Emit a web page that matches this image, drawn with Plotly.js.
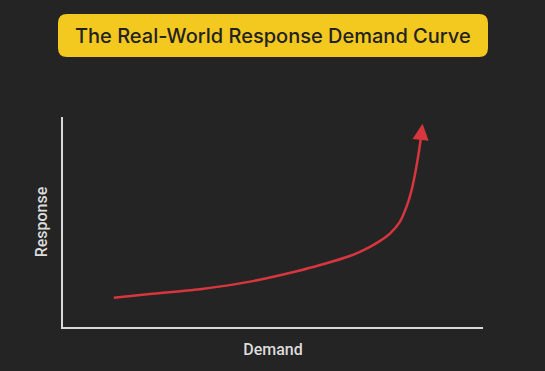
<!DOCTYPE html>
<html>
<head>
<meta charset="utf-8">
<script src="https://cdn.plot.ly/plotly-3.0.1.min.js"></script>
<style>html,body{margin:0;padding:0;background:#242424;}#chart{width:545px;height:371px;}</style>
</head>
<body>
<div id="chart"></div>
<script>
const chartTitle = "The Real-World Response Demand Curve";
const xLabel = "Demand";
const yLabel = "Response";
const demand   = [12.1, 20.7, 32.6, 44.5, 56.4, 61.2, 68.3, 73.1, 75.5, 77.9, 80.2, 81.8, 83.0, 84.0, 84.8, 85.2];
const response = [13.9, 15.7, 18.0, 21.6, 26.9, 29.5, 33.8, 38.2, 41.0, 44.6, 50.1, 57.3, 65.2, 74.8, 84.3, 90.0];
const arrowTip = [85.6, 96.8];

const red = "#d8363f";
const n = demand.length;

const trace = {
  x: demand, y: response, type: "scatter", mode: "lines",
  line: {color: red, width: 2.5, shape: "spline", smoothing: 0.8},
  hoverinfo: "skip"
};

const layout = {
  width: 545, height: 371,
  paper_bgcolor: "#242424", plot_bgcolor: "#242424",
  margin: {l: 63, r: 62, t: 117, b: 44},
  showlegend: false,
  xaxis: {
    range: [0, 100], showgrid: false, zeroline: false, showticklabels: false, ticks: "",
    showline: true, linecolor: "#d9d9d9", linewidth: 2, fixedrange: true,
    title: {text: xLabel, font: {family: "Roboto", size: 16, color: "#dcdcdc", weight: 500}, standoff: 16}
  },
  yaxis: {
    range: [0, 100], showgrid: false, zeroline: false, showticklabels: false, ticks: "",
    showline: true, linecolor: "#d9d9d9", linewidth: 2, fixedrange: true,
    title: {text: yLabel, font: {family: "Roboto", size: 16, color: "#dcdcdc", weight: 500}, standoff: 9}
  },
  shapes: [{
    type: "path", xref: "paper", yref: "paper",
    xsizemode: "pixel", ysizemode: "pixel", xanchor: 0.5, yanchor: 1.388,
    path: "M -206,-21.5 L 206,-21.5 Q 215,-21.5 215,-12.5 L 215,12.5 Q 215,21.5 206,21.5 L -206,21.5 Q -215,21.5 -215,12.5 L -215,-12.5 Q -215,-21.5 -206,-21.5 Z",
    fillcolor: "#f3c81f", line: {width: 0}, layer: "below"
  }],
  annotations: [
    {
      text: chartTitle, xref: "paper", yref: "paper", x: 0.5, y: 1.388,
      xanchor: "center", yanchor: "middle", showarrow: false,
      font: {family: "Inter", size: 20, color: "#222222", weight: 500}
    },
    {
      x: arrowTip[0], y: arrowTip[1], ax: demand[n-1], ay: response[n-1],
      xref: "x", yref: "y", axref: "x", ayref: "y",
      text: "", showarrow: true, arrowhead: 2, arrowsize: 1.3, arrowwidth: 2.5, arrowcolor: red
    }
  ]
};

Plotly.newPlot("chart", [trace], layout, {displayModeBar: false, staticPlot: true});
</script>
</body>
</html>
